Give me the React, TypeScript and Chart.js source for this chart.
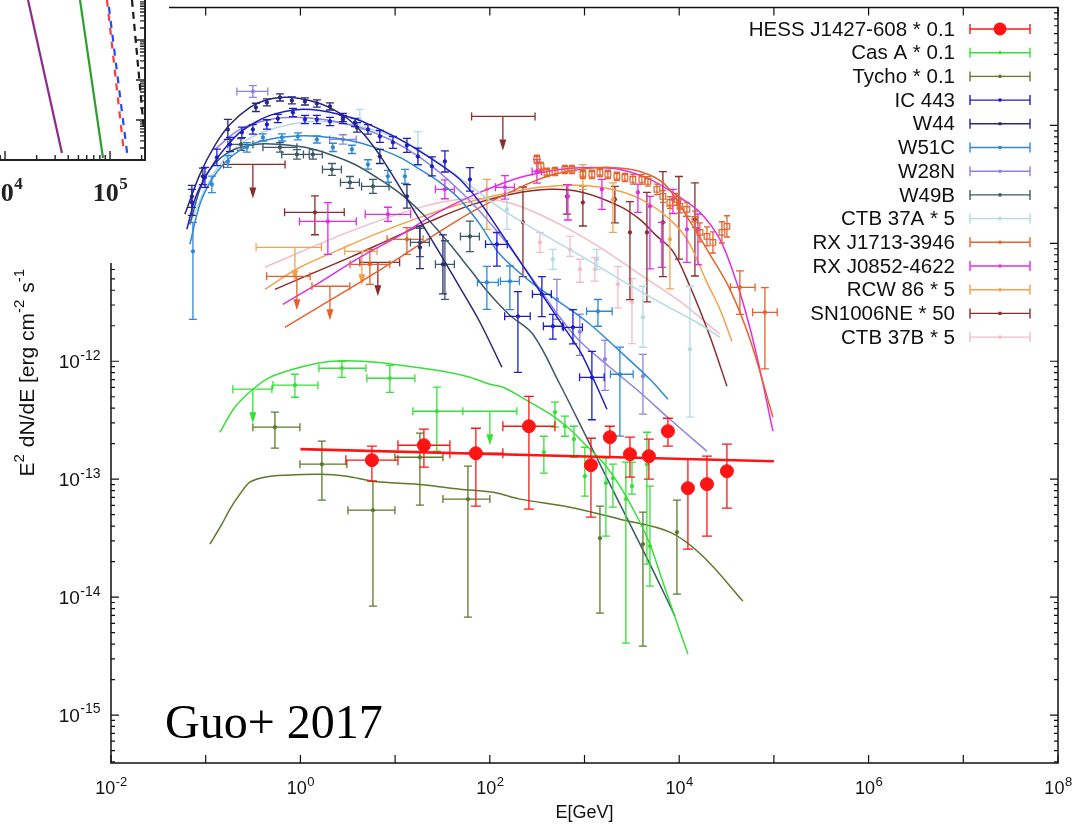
import { useEffect, useRef } from "react";
import { Chart, registerables } from "chart.js";

Chart.register(...registerables);

const SANS = "'Liberation Sans', Arial, Helvetica, sans-serif";
const SERIF = "'Liberation Serif', 'Times New Roman', serif";

// ---------- axes ----------
const X_MIN = 1e-2;
const X_MAX = 1e8;
const Y_MIN = 3.92e-16;
const Y_MAX = 1e-9;
const X_TICK_EXP = [-2, -1, 0, 1, 2, 3, 4, 5, 6, 7, 8];
const X_LABEL_EXP = [-2, 0, 2, 4, 6, 8];
const Y_LABEL_EXP = [-15, -14, -13, -12];

// ---------- sources ----------
const SOURCE_LABELS = [
  "HESS J1427-608 * 0.1",
  "Cas A * 0.1",
  "Tycho * 0.1",
  "IC 443",
  "W44",
  "W51C",
  "W28N",
  "W49B",
  "CTB 37A * 5",
  "RX J1713-3946",
  "RX J0852-4622",
  "RCW 86 * 5",
  "SN1006NE * 50",
  "CTB 37B * 5",
];
const SOURCE_COLORS = [
  "#ff1414",
  "#36e036",
  "#5b7a2b",
  "#1e1ec4",
  "#28287c",
  "#2d88d8",
  "#8c84e2",
  "#3d5866",
  "#b4d9e3",
  "#e4622c",
  "#e22ce2",
  "#f2a24e",
  "#8c2c2c",
  "#f4bcc6",
];

// Model curves: [log10 E/GeV, log10 E^2 dN/dE]
const hessModel = [[0, -12.745], [2.5, -12.797], [5, -12.848]];
const casAModel = [
  [-0.85, -12.602], [-0.692, -12.39], [-0.502, -12.237], [-0.322, -12.136], [-0.079, -12.068],
  [0.132, -12.025], [0.343, -12.0], [0.66, -12.0], [0.977, -12.025], [1.505, -12.085],
  [1.79, -12.136], [2.001, -12.195], [2.138, -12.22], [2.318, -12.297], [2.497, -12.381],
  [2.688, -12.475], [2.846, -12.576], [3.004, -12.703], [3.194, -12.856], [3.374, -13.059],
  [3.553, -13.314], [3.691, -13.551], [3.828, -13.873], [3.955, -14.169], [4.092, -14.483],
];
const tychoModel = [
  [-0.956, -13.551], [-0.829, -13.381], [-0.744, -13.254], [-0.639, -13.127], [-0.533, -13.025],
  [-0.375, -12.983], [-0.143, -12.966], [0.206, -12.958], [0.491, -12.975], [0.766, -13.017],
  [1.051, -13.034], [1.336, -13.051], [1.684, -13.085], [2.033, -13.11], [2.318, -13.169],
  [2.846, -13.237], [3.374, -13.339], [3.902, -13.449], [4.25, -13.653], [4.673, -14.034],
];
const ic443Model = [
  [-1.199, -10.881], [-1.114, -10.627], [-1.03, -10.475], [-0.935, -10.347], [-0.85, -10.246],
  [-0.744, -10.144], [-0.639, -10.059], [-0.48, -9.975], [-0.322, -9.915], [-0.164, -9.881],
  [-0.005, -9.864], [0.206, -9.873], [0.417, -9.907], [0.628, -9.958], [0.839, -10.034],
  [1.051, -10.119], [1.262, -10.22], [1.473, -10.331], [1.684, -10.458], [1.896, -10.653],
  [2.107, -10.898], [2.318, -11.153], [2.529, -11.407], [2.74, -11.661], [2.952, -11.915],
  [3.11, -12.178], [3.237, -12.407],
];
const w44Model = [
  [-1.22, -10.754], [-1.061, -10.415], [-0.903, -10.169], [-0.744, -9.992], [-0.533, -9.847],
  [-0.375, -9.788], [-0.216, -9.763], [-0.005, -9.771], [0.206, -9.814], [0.364, -9.873],
  [0.523, -9.958], [0.681, -10.085], [0.839, -10.254], [1.051, -10.525], [1.262, -10.805],
  [1.473, -11.085], [1.684, -11.373], [1.896, -11.669], [2.128, -12.051],
];
const w51cModel = [
  [-1.167, -11.008], [-1.061, -10.669], [-0.935, -10.458], [-0.797, -10.314], [-0.639, -10.212],
  [-0.428, -10.136], [-0.111, -10.093], [0.206, -10.093], [0.523, -10.127], [0.787, -10.186],
  [1.051, -10.271], [1.262, -10.373], [1.473, -10.483], [1.684, -10.627], [1.896, -10.839],
  [2.107, -11.093], [2.424, -11.322], [2.74, -11.5], [3.057, -11.686], [3.374, -11.915],
  [3.691, -12.153], [3.881, -12.322],
];
const w28nModel = [
  [-0.903, -10.203], [-0.639, -10.034], [-0.322, -9.949], [-0.005, -9.932], [0.312, -9.958],
  [0.628, -10.017], [0.945, -10.119], [1.262, -10.271], [1.579, -10.475], [1.896, -10.729],
  [2.212, -11.034], [2.529, -11.39], [2.74, -11.627], [2.952, -11.831], [3.268, -12.051],
  [3.585, -12.263], [3.902, -12.492], [4.293, -12.763],
];
const w49bModel = [
  [-1.167, -10.839], [-1.061, -10.542], [-0.956, -10.373], [-0.744, -10.22], [-0.48, -10.161],
  [-0.216, -10.161], [0.048, -10.186], [0.312, -10.246], [0.576, -10.331], [0.839, -10.458],
  [1.104, -10.61], [1.368, -10.814], [1.579, -11.008], [1.79, -11.22], [2.001, -11.432],
  [2.212, -11.61], [2.455, -11.771], [2.74, -12.195], [3.057, -12.703], [3.374, -13.212],
  [3.691, -13.72], [3.955, -14.161],
];
const ctb37aModel = [
  [-1.167, -10.839], [-1.008, -10.542], [-0.85, -10.331], [-0.639, -10.161], [-0.375, -10.051],
  [-0.058, -9.983], [0.259, -9.966], [0.576, -10.0], [0.892, -10.068], [1.209, -10.186],
  [1.526, -10.356], [1.843, -10.542], [2.16, -10.729], [2.529, -10.907], [2.952, -11.102],
  [3.374, -11.305], [3.796, -11.5], [4.219, -11.686], [4.43, -11.797],
];
const rxj1713Model = [
  [-0.164, -11.712], [0.206, -11.534], [0.628, -11.331], [1.051, -11.119], [1.473, -10.898],
  [1.896, -10.695], [2.318, -10.525], [2.635, -10.424], [2.952, -10.373], [3.268, -10.356],
  [3.585, -10.39], [3.849, -10.5], [4.113, -10.814], [4.324, -11.093], [4.536, -11.39],
  [4.747, -11.814], [4.99, -12.475],
];
const rxj0852Model = [
  [-0.185, -11.517], [0.206, -11.331], [0.628, -11.119], [1.051, -10.932], [1.473, -10.729],
  [1.896, -10.568], [2.318, -10.441], [2.74, -10.373], [3.057, -10.356], [3.374, -10.373],
  [3.691, -10.458], [4.008, -10.61], [4.219, -10.737], [4.43, -10.966], [4.588, -11.288],
  [4.694, -11.559], [4.821, -11.958], [4.99, -12.593],
];
const rcw86Model = [
  [-0.375, -11.39], [-0.005, -11.203], [0.417, -11.051], [0.839, -10.907], [1.262, -10.78],
  [1.684, -10.669], [2.107, -10.585], [2.529, -10.525], [2.952, -10.508], [3.374, -10.559],
  [3.691, -10.669], [3.955, -10.839], [4.113, -11.008], [4.293, -11.331], [4.43, -11.559],
  [4.557, -11.831],
];
const sn1006Model = [
  [-0.269, -11.39], [0.1, -11.263], [0.523, -11.119], [0.945, -10.966], [1.368, -10.814],
  [1.79, -10.678], [2.212, -10.585], [2.635, -10.542], [2.983, -10.568], [3.374, -10.686],
  [3.585, -10.797], [3.744, -10.924], [3.934, -11.068], [4.113, -11.364], [4.324, -11.788],
  [4.504, -12.212],
];
const ctb37bModel = [
  [-0.375, -11.203], [-0.005, -11.076], [0.417, -10.932], [0.839, -10.805], [1.262, -10.695],
  [1.684, -10.627], [2.001, -10.627], [2.318, -10.686], [2.74, -10.839], [3.163, -11.034],
  [3.585, -11.263], [4.008, -11.492], [4.43, -11.771],
];

// Flux points: [log10 E, log10 F, dlogE-, dlogE+, dlogF-, dlogF+]
const hessPts = [
  [0.755, -12.839, 0.275, 0.275, 0.178, 0.119],
  [1.304, -12.712, 0.274, 0.275, 0.186, 0.136],
  [1.853, -12.78, 0.274, 0.285, 0.449, 0.212],
  [2.413, -12.551, 0.275, 0.275, 0.703, 0.254],
  [3.068, -12.881, 0, 0, 0.441, 0.228],
  [3.268, -12.644, 0, 0, 0.17, 0.093],
  [3.48, -12.788, 0, 0, 0.195, 0.144],
  [3.68, -12.805, 0, 0, 0.195, 0.144],
  [3.881, -12.593, 0, 0, 0.127, 0.11],
  [4.092, -13.076, 0, 0, 0.517, 0.245],
  [4.293, -13.042, 0, 0, 0.441, 0.237],
  [4.504, -12.932, 0, 0, 0.314, 0.229],
];
const casAPts = [
  [-0.058, -12.203, 0.232, 0.243, 0.102, 0.093],
  [0.438, -12.059, 0.243, 0.254, 0.077, 0.059],
  [0.945, -12.144, 0.243, 0.264, 0.119, 0.11],
  [1.441, -12.424, 0.253, 0.275, 0.339, 0.204],
  [2.571, -12.771, 0, 0, 0.178, 0.135],
  [2.688, -12.432, 0, 0, 0.127, 0.085],
  [2.793, -12.551, 0, 0, 0.085, 0.085],
  [2.888, -12.661, 0, 0, 0.153, 0.11],
  [3.004, -12.975, 0, 0, 0.169, 0.246],
  [3.226, -13.034, 0, 0, 0.449, 0.212],
  [3.3, -12.992, 0, 0, 0.245, 0.119],
  [3.437, -13.169, 0, 0, 1.221, 0.313],
  [3.501, -13.059, 0, 0, 0.068, 0.203],
  [3.659, -12.873, 0, 0, 0.847, 0.271],
  [3.691, -13.568, 0, 0, 0.339, 0.509],
];
const tychoPts = [
  [-0.269, -12.559, 0.233, 0.264, 0.178, 0.127],
  [0.227, -12.873, 0.232, 0.264, 0.305, 0.195],
  [0.766, -13.263, 0.264, 0.232, 0.813, 0.246],
  [1.262, -12.814, 0.264, 0.243, 0.406, 0.204],
  [1.769, -13.169, 0.264, 0.232, 1.0, 0.279],
  [3.163, -13.5, 0, 0, 0.636, 0.271],
  [3.617, -13.551, 0, 0, 0.864, 0.271],
  [3.976, -13.449, 0, 0, 0.526, 0.271],
];
const ic443Pts = [
  [-1.146, -10.653, 0, 0, 0.11, 0.11],
  [-1.008, -10.441, 0, 0, 0.085, 0.085],
  [-0.882, -10.271, 0, 0, 0.07, 0.07],
  [-0.744, -10.161, 0, 0, 0.06, 0.06],
  [-0.618, -10.059, 0, 0, 0.045, 0.045],
  [-0.502, -10.034, 0, 0, 0.04, 0.04],
  [-0.354, -9.992, 0, 0, 0.04, 0.04],
  [-0.238, -9.941, 0, 0, 0.035, 0.035],
  [-0.079, -9.89, 0, 0, 0.035, 0.035],
  [0.048, -9.949, 0, 0, 0.035, 0.035],
  [0.174, -9.949, 0, 0, 0.035, 0.035],
  [0.312, -9.966, 0, 0, 0.035, 0.035],
  [0.449, -9.949, 0, 0, 0.035, 0.035],
  [0.576, -9.975, 0, 0, 0.035, 0.035],
  [0.713, -10.034, 0, 0, 0.04, 0.04],
  [0.839, -10.093, 0, 0, 0.05, 0.05],
  [0.977, -10.144, 0, 0, 0.05, 0.05],
  [1.125, -10.169, 0, 0, 0.06, 0.06],
  [1.241, -10.263, 0, 0, 0.07, 0.07],
  [1.389, -10.347, 0, 0, 0.08, 0.08],
  [1.526, -10.305, 0, 0, 0.09, 0.09],
  [1.79, -10.458, 0, 0, 0.1, 0.1],
  [2.075, -11.008, 0.12, 0.11, 0.186, 0.1],
  [2.297, -11.619, 0.14, 0.13, 0.475, 0.21],
  [2.55, -11.432, 0.1, 0.1, 0.19, 0.15],
  [2.666, -11.703, 0.1, 0.1, 0.11, 0.1],
  [2.878, -11.712, 0.1, 0.1, 0.14, 0.15],
  [3.078, -12.136, 0.13, 0.13, 0.36, 0.22],
];
const w44Pts = [
  [-1.146, -10.602, 0, 0, 0.093, 0.093],
  [-1.03, -10.432, 0, 0, 0.07, 0.07],
  [-0.766, -10.034, 0, 0, 0.085, 0.085],
  [-0.47, -9.847, 0, 0, 0.035, 0.035],
  [-0.354, -9.805, 0, 0, 0.03, 0.03],
  [-0.216, -9.763, 0, 0, 0.03, 0.03],
  [-0.09, -9.788, 0, 0, 0.03, 0.03],
  [0.048, -9.797, 0, 0, 0.03, 0.03],
  [0.174, -9.814, 0, 0, 0.03, 0.03],
  [0.312, -9.839, 0, 0, 0.03, 0.03],
  [0.449, -9.932, 0, 0, 0.035, 0.035],
  [0.597, -10.017, 0, 0, 0.04, 0.04],
  [0.839, -10.263, 0, 0, 0.06, 0.06],
  [1.125, -10.602, 0, 0, 0.1, 0.1],
  [1.262, -11.034, 0, 0, 0.18, 0.18],
  [1.505, -11.178, 0, 0, 0.25, 0.25],
];
const w51cPts = [
  [-1.135, -11.068, 0, 0, 0.576, 0.246],
  [-0.935, -10.5, 0, 0, 0.07, 0.07],
  [-0.766, -10.305, 0, 0, 0.05, 0.05],
  [-0.565, -10.186, 0, 0, 0.04, 0.04],
  [-0.396, -10.102, 0, 0, 0.03, 0.03],
  [-0.195, -10.102, 0, 0, 0.03, 0.03],
  [-0.026, -10.093, 0, 0, 0.03, 0.03],
  [0.174, -10.119, 0, 0, 0.03, 0.03],
  [0.343, -10.186, 0, 0, 0.035, 0.035],
  [0.544, -10.203, 0, 0, 0.035, 0.035],
  [0.713, -10.331, 0, 0, 0.04, 0.04],
  [0.924, -10.432, 0, 0, 0.05, 0.05],
  [1.104, -10.432, 0, 0, 0.06, 0.06],
  [1.969, -11.331, 0.1, 0.12, 0.229, 0.136],
  [2.212, -11.322, 0.1, 0.1, 0.24, 0.13],
  [3.142, -11.576, 0.12, 0.15, 0.127, 0.1],
  [3.374, -12.11, 0.1, 0.14, 0.525, 0.23],
];
const w28nPts = [
  [-0.502, -9.712, 0.169, 0.158, 0.05, 0.05],
  [0.449, -10.119, 0.14, 0.14, 0.04, 0.04],
  [2.709, -11.475, 0, 0, 0.17, 0.17],
  [2.95, -11.75, 0, 0, 0.2, 0.15],
  [3.216, -11.983, 0, 0, 0.263, 0.161],
  [3.617, -12.127, 0, 0, 0.322, 0.186],
];
const w49bPts = [
  [-0.628, -10.161, 0.138, 0.127, 0.05, 0.05],
  [-0.216, -10.186, 0.18, 0.18, 0.04, 0.04],
  [-0.037, -10.246, 0.16, 0.13, 0.04, 0.04],
  [0.132, -10.246, 0.1, 0.1, 0.04, 0.04],
  [0.333, -10.373, 0.1, 0.1, 0.05, 0.05],
  [0.523, -10.483, 0.1, 0.1, 0.05, 0.05],
  [0.766, -10.517, 0.12, 0.17, 0.06, 0.06],
  [1.262, -10.992, 0.1, 0.1, 0.12, 0.12],
  [1.526, -11.178, 0.1, 0.1, 0.297, 0.2],
  [1.79, -10.941, 0.1, 0.1, 0.13, 0.13],
];
const ctb37aPts = [
  [0.628, -9.949, 0, 0, 0.085, 0.085],
  [1.241, -10.203, 0, 0, 0.14, 0.15],
  [2.181, -10.712, 0, 0, 0.17, 0.17],
  [2.666, -11.136, 0, 0, 0.085, 0.085],
  [3.131, -11.136, 0, 0, 0.085, 0.085],
  [3.617, -11.627, 0, 0, 0.254, 0.263],
  [4.113, -11.898, 0, 0, 0.576, 0.534],
];
const rxj1713Pts = [
  [0.734, -11.178, 0.21, 0.21, 0.17, 0.127],
  [1.125, -10.966, 0.21, 0.17, 0.127, 0.1],
  [4.641, -11.373, 0.1, 0.16, 0.23, 0.14],
  [4.905, -11.585, 0.13, 0.13, 0.48, 0.21],
];
const rxj1713HessPts = [
  [2.497, -10.288, 0, 0, 0.035, 0.035],
  [2.54, -10.347, 0, 0, 0.035, 0.035],
  [2.603, -10.398, 0, 0, 0.035, 0.035],
  [2.688, -10.39, 0, 0, 0.035, 0.035],
  [2.793, -10.373, 0, 0, 0.035, 0.035],
  [2.867, -10.373, 0, 0, 0.035, 0.035],
  [2.983, -10.415, 0, 0, 0.035, 0.035],
  [3.078, -10.415, 0, 0, 0.035, 0.035],
  [3.163, -10.398, 0, 0, 0.035, 0.035],
  [3.247, -10.415, 0, 0, 0.035, 0.035],
  [3.342, -10.432, 0, 0, 0.035, 0.035],
  [3.427, -10.441, 0, 0, 0.035, 0.035],
  [3.511, -10.458, 0, 0, 0.04, 0.04],
  [3.606, -10.458, 0, 0, 0.04, 0.04],
  [3.67, -10.475, 0, 0, 0.04, 0.04],
  [3.765, -10.542, 0, 0, 0.045, 0.045],
  [3.828, -10.602, 0, 0, 0.05, 0.05],
  [3.902, -10.653, 0, 0, 0.05, 0.05],
  [3.976, -10.627, 0, 0, 0.05, 0.05],
  [4.008, -10.686, 0, 0, 0.055, 0.055],
  [4.081, -10.712, 0, 0, 0.06, 0.06],
  [4.166, -10.797, 0, 0, 0.07, 0.07],
  [4.219, -10.907, 0, 0, 0.08, 0.08],
  [4.293, -10.941, 0, 0, 0.08, 0.08],
  [4.356, -10.992, 0, 0, 0.09, 0.09],
  [4.451, -10.907, 0, 0, 0.09, 0.09],
  [4.504, -10.856, 0, 0, 0.09, 0.09],
];
const rxj0852Pts = [
  [0.29, -10.814, 0.3, 0.3, 0.28, 0.16],
  [0.924, -10.754, 0.24, 0.24, 0.06, 0.06],
  [1.526, -10.542, 0.1, 0.1, 0.08, 0.08],
  [2.16, -10.525, 0.1, 0.1, 0.1, 0.1],
  [2.497, -10.39, 0.05, 0.05, 0.1, 0.1],
  [2.825, -10.602, 0, 0, 0.2, 0.1],
  [3.184, -10.542, 0, 0, 0.17, 0.085],
  [3.564, -10.568, 0, 0, 0.17, 0.07],
  [3.691, -10.686, 0, 0, 0.53, 0.085],
  [3.817, -10.983, 0, 0, 0.22, 0.16],
  [3.934, -10.627, 0, 0, 0.12, 0.085],
  [4.081, -10.881, 0, 0, 0.28, 0.11],
  [4.198, -10.881, 0, 0, 0.3, 0.13],
];
const rcw86Pts = [
  [1.969, -10.542, 0, 0, 0.34, 0.085],
  [2.983, -10.432, 0, 0, 0.11, 0.1],
  [3.3, -10.627, 0, 0, 0.28, 0.14],
  [3.902, -10.966, 0, 0, 0.42, 0.28],
];
const sn1006Pts = [
  [0.153, -10.737, 0.32, 0.31, 0.19, 0.14],
  [2.35, -10.822, 0, 0, 0.46, 0.3],
  [2.814, -10.602, 0, 0, 0.15, 0.1],
  [2.983, -10.653, 0, 0, 0.2, 0.14],
  [3.321, -10.627, 0, 0, 0.2, 0.11],
  [3.48, -10.907, 0, 0, 0.57, 0.26],
  [3.659, -10.907, 0, 0, 0.59, 0.34],
  [3.828, -10.822, 0, 0, 0.46, 0.43],
  [3.997, -10.653, 0, 0, 0.48, 0.22],
  [4.166, -10.797, 0, 0, 0.48, 0.31],
];
const ctb37bPts = [
  [2.529, -10.992, 0, 0, 0.085, 0.085],
  [2.846, -11.051, 0, 0, 0.06, 0.11],
  [2.952, -11.22, 0, 0, 0.11, 0.085],
  [3.11, -11.22, 0, 0, 0.1, 0.1],
  [3.353, -11.347, 0, 0, 0.2, 0.15],
  [3.501, -11.5, 0, 0, 0.35, 0.2],
];

// Upper limits: [log10 E, log10 F, dlogE-, dlogE+]
const casAUL = [[-0.502, -12.237, 0.211, 0.201], [2.001, -12.424, 0.285, 0.285]];
const rxj1713UL = [[-0.037, -11.28, 0.32, 0.14], [0.312, -11.364, 0.19, 0.21]];
const rcw86UL = [[-0.058, -11.034, 0.41, 0.28], [0.649, -11.068, 0.18, 0.16]];
const sn1006UL = [[2.138, -9.924, 0.33, 0.34], [-0.502, -10.331, 0.31, 0.34], [0.818, -11.161, 0.19, 0.23]];

const MODELS = [
  hessModel, casAModel, tychoModel, ic443Model, w44Model, w51cModel, w28nModel,
  w49bModel, ctb37aModel, rxj1713Model, rxj0852Model, rcw86Model, sn1006Model, ctb37bModel,
];
const POINTS = [
  hessPts, casAPts, tychoPts, ic443Pts, w44Pts, w51cPts, w28nPts,
  w49bPts, ctb37aPts, rxj1713Pts, rxj0852Pts, rcw86Pts, sn1006Pts, ctb37bPts,
];
const LIMITS = [[], casAUL, [], [], [], [], [], [], [], rxj1713UL, [], rcw86UL, sn1006UL, []];

// ---------- inset (adjacent panel, x in log10 E, y in log10 of its own units) ----------
const INSET_X_MIN = 10 ** 3.952;
const INSET_X_MAX = 10 ** 5.333;
const INSET_Y_MIN = 1e-2;
const INSET_Y_MAX = 1e2;
const insetPurple = [[4.219, 2.0], [4.542, -1.825]];
const insetGreen = [[4.714, 2.0], [4.933, -1.95]];
const insetRed = [[4.971, 2.0], [5.133, -1.825]];
const insetBlue = [[4.981, 2.0], [5.171, -2.0]];
const insetBlack = [[5.209, 2.0], [5.323, -1.25]];

const toXY = (rows: number[][]) => rows.map((r) => ({ x: 10 ** r[0], y: 10 ** r[1] }));

function drawPow(
  ctx: CanvasRenderingContext2D,
  exp: string,
  x: number,
  y: number,
  align: "center" | "right",
  size: number,
  family: string,
  weight = "",
  supRatio = 0.66
) {
  const base = `${weight} ${size}px ${family}`;
  const sup = `${weight} ${Math.round(size * supRatio)}px ${family}`;
  ctx.font = base;
  const w1 = ctx.measureText("10").width;
  ctx.font = sup;
  const w2 = ctx.measureText(exp).width;
  const start = align === "center" ? x - (w1 + w2) / 2 : x - w1 - w2;
  ctx.textAlign = "left";
  ctx.textBaseline = "alphabetic";
  ctx.font = base;
  ctx.fillText("10", start, y);
  ctx.font = sup;
  ctx.fillText(exp, start + w1 + 0.5, y - size * 0.45);
}

const ARROW = 34;

const errorBarPlugin = {
  id: "errorBars",
  afterDatasetDraw(chart: any, args: any) {
    const ds: any = chart.data.datasets[args.index];
    if (!ds.errorRows && !ds.limitRows) return;
    const { ctx, chartArea: a } = chart;
    const sx = chart.scales.x;
    const sy = chart.scales.y;
    const X = (l: number) => sx.getPixelForValue(10 ** l);
    const Y = (l: number) => sy.getPixelForValue(10 ** l);
    const cap = ds.capSize ?? 4;
    ctx.save();
    ctx.beginPath();
    ctx.rect(a.left, a.top, a.right - a.left, a.bottom - a.top);
    ctx.clip();
    ctx.strokeStyle = ds.borderColor;
    ctx.fillStyle = ds.borderColor;
    ctx.lineWidth = ds.barWidth ?? 1.3;
    ctx.beginPath();
    for (const r of ds.errorRows ?? []) {
      const px = X(r[0]);
      const py = Y(r[1]);
      if (r[2] > 0 || r[3] > 0) {
        const x0 = X(r[0] - r[2]);
        const x1 = X(r[0] + r[3]);
        ctx.moveTo(x0, py);
        ctx.lineTo(x1, py);
        ctx.moveTo(x0, py - cap);
        ctx.lineTo(x0, py + cap);
        ctx.moveTo(x1, py - cap);
        ctx.lineTo(x1, py + cap);
      }
      if (r[4] > 0 || r[5] > 0) {
        const y0 = Y(r[1] - r[4]);
        const y1 = Y(r[1] + r[5]);
        ctx.moveTo(px, y0);
        ctx.lineTo(px, y1);
        ctx.moveTo(px - cap, y0);
        ctx.lineTo(px + cap, y0);
        ctx.moveTo(px - cap, y1);
        ctx.lineTo(px + cap, y1);
      }
    }
    for (const u of ds.limitRows ?? []) {
      const px = X(u[0]);
      const py = Y(u[1]);
      const x0 = X(u[0] - u[2]);
      const x1 = X(u[0] + u[3]);
      ctx.moveTo(x0, py);
      ctx.lineTo(x1, py);
      ctx.moveTo(x0, py - cap);
      ctx.lineTo(x0, py + cap);
      ctx.moveTo(x1, py - cap);
      ctx.lineTo(x1, py + cap);
      ctx.moveTo(px, py);
      ctx.lineTo(px, py + ARROW - 6);
    }
    ctx.stroke();
    for (const u of ds.limitRows ?? []) {
      const px = X(u[0]);
      const py = Y(u[1]) + ARROW;
      ctx.beginPath();
      ctx.moveTo(px, py);
      ctx.lineTo(px - 3.5, py - 11);
      ctx.lineTo(px + 3.5, py - 11);
      ctx.closePath();
      ctx.fill();
    }
    ctx.restore();
  },
};

const framePlugin = {
  id: "frame",
  afterDraw(chart: any) {
    const { ctx, chartArea: a } = chart;
    const sx = chart.scales.x;
    const sy = chart.scales.y;
    ctx.save();
    ctx.strokeStyle = "#111";
    ctx.fillStyle = "#111";
    ctx.lineWidth = 1.5;
    ctx.strokeRect(a.left, a.top, a.right - a.left, a.bottom - a.top);
    ctx.lineWidth = 1.2;
    ctx.beginPath();
    for (const e of X_TICK_EXP) {
      const px = sx.getPixelForValue(10 ** e);
      ctx.moveTo(px, a.bottom);
      ctx.lineTo(px, a.bottom - 8);
      ctx.moveTo(px, a.top);
      ctx.lineTo(px, a.top + 8);
    }
    for (let d = -16; d <= -9; d++) {
      for (let m = 1; m <= 9; m++) {
        const v = m * 10 ** d;
        if (v < Y_MIN || v > Y_MAX * 1.0001) continue;
        const py = sy.getPixelForValue(v);
        const len = m === 1 ? 8 : 4;
        ctx.moveTo(a.left, py);
        ctx.lineTo(a.left + len, py);
        ctx.moveTo(a.right, py);
        ctx.lineTo(a.right - len, py);
      }
    }
    ctx.stroke();

    for (const e of X_LABEL_EXP) {
      drawPow(ctx, String(e), sx.getPixelForValue(10 ** e), 794, "center", 18, SANS, "", 0.7);
    }
    for (const e of Y_LABEL_EXP) {
      drawPow(ctx, String(e), a.left - 11, sy.getPixelForValue(10 ** e) + 7, "right", 19, SANS, "", 0.72);
    }

    ctx.font = `18px ${SANS}`;
    ctx.textAlign = "center";
    ctx.textBaseline = "alphabetic";
    ctx.fillText("E[GeV]", (a.left + a.right) / 2, 818);

    // vertical axis title; its upper end runs under the neighbouring panel
    const parts: [string, boolean][] = [
      ["E", false], ["2", true], [" dN/dE [erg cm", false], ["-2", true], [" s", false], ["-1", true],
    ];
    const fontFor = (sup: boolean) => (sup ? `15px ${SANS}` : `21px ${SANS}`);
    let total = 0;
    for (const [t, sup] of parts) {
      ctx.font = fontFor(sup);
      total += ctx.measureText(t).width + (sup ? 1 : 0);
    }
    ctx.save();
    ctx.translate(34, 268 + total);
    ctx.rotate(-Math.PI / 2);
    let cx = 0;
    for (const [t, sup] of parts) {
      ctx.font = fontFor(sup);
      ctx.textAlign = "left";
      ctx.fillText(t, cx, sup ? -10 : 0);
      cx += ctx.measureText(t).width + (sup ? 1 : 0);
    }
    ctx.restore();

    // area occupied by the neighbouring panel
    ctx.fillStyle = "#ffffff";
    ctx.fillRect(0, 0, 169, 263);

    // legend
    ctx.font = `20.5px ${SANS}`;
    ctx.textAlign = "right";
    ctx.textBaseline = "middle";
    SOURCE_LABELS.forEach((label, i) => {
      const y = 29 + i * 23.7;
      ctx.fillStyle = "#111";
      ctx.fillText(label, 955, y + 1);
      const c = SOURCE_COLORS[i];
      ctx.strokeStyle = c;
      ctx.fillStyle = c;
      ctx.lineWidth = 1.4;
      ctx.beginPath();
      ctx.moveTo(970, y);
      ctx.lineTo(1030, y);
      ctx.moveTo(970, y - 5);
      ctx.lineTo(970, y + 5);
      ctx.moveTo(1030, y - 5);
      ctx.lineTo(1030, y + 5);
      ctx.stroke();
      ctx.beginPath();
      ctx.arc(1000, y, i === 0 ? 6.5 : 1.8, 0, Math.PI * 2);
      ctx.fill();
    });

    ctx.fillStyle = "#000";
    ctx.font = `48px ${SERIF}`;
    ctx.textAlign = "left";
    ctx.textBaseline = "alphabetic";
    ctx.fillText("Guo+ 2017", 165, 738);
    ctx.restore();
  },
};

const insetFrame = {
  id: "insetFrame",
  afterDraw(chart: any) {
    const { ctx, chartArea: a } = chart;
    const sx = chart.scales.x;
    const sy = chart.scales.y;
    ctx.save();
    ctx.strokeStyle = "#222";
    ctx.lineWidth = 2;
    ctx.beginPath();
    ctx.moveTo(a.left, a.bottom);
    ctx.lineTo(a.right, a.bottom);
    ctx.lineTo(a.right, a.top);
    ctx.stroke();
    ctx.lineWidth = 1.4;
    ctx.beginPath();
    for (let d = 3; d <= 5; d++) {
      for (let m = 1; m <= 9; m++) {
        const v = m * 10 ** d;
        if (v < INSET_X_MIN || v > INSET_X_MAX) continue;
        const px = sx.getPixelForValue(v);
        const len = m === 1 ? 9 : 5;
        ctx.moveTo(px, a.bottom);
        ctx.lineTo(px, a.bottom - len);
      }
    }
    for (let d = -2; d <= 1; d++) {
      for (let m = 1; m <= 9; m++) {
        const v = m * 10 ** d;
        if (v < INSET_Y_MIN || v > INSET_Y_MAX) continue;
        const py = sy.getPixelForValue(v);
        const len = m === 1 ? 9 : 5;
        ctx.moveTo(a.right, py);
        ctx.lineTo(a.right - len, py);
      }
    }
    ctx.stroke();
    ctx.fillStyle = "#222";
    drawPow(ctx, "4", sx.getPixelForValue(1e4), 201, "center", 26, SERIF, "bold");
    drawPow(ctx, "5", sx.getPixelForValue(1e5), 201, "center", 26, SERIF, "bold");
    ctx.restore();
  },
};

function buildMain() {
  const datasets: any[] = [];
  SOURCE_LABELS.forEach((label, i) => {
    const color = SOURCE_COLORS[i];
    datasets.push({
      label,
      data: toXY(POINTS[i]),
      showLine: false,
      pointRadius: i === 0 ? 6.5 : 1.7,
      pointBackgroundColor: color,
      pointBorderColor: color,
      borderColor: color,
      backgroundColor: color,
      errorRows: POINTS[i],
      limitRows: LIMITS[i],
      capSize: i === 0 ? 5 : 4,
    });
    if (i === 9) {
      datasets.push({
        label: label + " (TeV)",
        data: toXY(rxj1713HessPts),
        showLine: false,
        pointStyle: "rect",
        pointRadius: 4,
        pointBorderWidth: 1.2,
        pointBackgroundColor: "rgba(0,0,0,0)",
        pointBorderColor: color,
        borderColor: color,
        errorRows: rxj1713HessPts,
        capSize: 3,
      });
    }
    datasets.push({
      label: label + " model",
      data: toXY(MODELS[i]),
      showLine: true,
      pointRadius: 0,
      borderColor: color,
      borderWidth: i === 0 ? 2.6 : 1.5,
      tension: i === 0 ? 0 : 0.35,
      fill: false,
    });
  });
  return {
    type: "scatter" as const,
    data: { datasets },
    options: {
      animation: false as const,
      responsive: false,
      devicePixelRatio: 1,
      events: [],
      layout: { padding: { left: 111, right: 19, top: 7, bottom: 66 } },
      plugins: { legend: { display: false }, tooltip: { enabled: false } },
      scales: {
        x: { type: "logarithmic" as const, min: X_MIN, max: X_MAX, display: false },
        y: { type: "logarithmic" as const, min: Y_MIN, max: Y_MAX, display: false },
      },
    },
    plugins: [errorBarPlugin, framePlugin],
  };
}

function buildInset() {
  const line = (rows: number[][], color: string, dash: number[], offset = 0) => ({
    data: toXY(rows),
    showLine: true,
    pointRadius: 0,
    borderColor: color,
    borderWidth: 2.2,
    borderDash: dash,
    borderDashOffset: offset,
    fill: false,
  });
  return {
    type: "scatter" as const,
    data: {
      datasets: [
        line(insetPurple, "#8e2a8e", []),
        line(insetGreen, "#2f9e2f", []),
        line(insetRed, "#ff3a3a", [7, 7]),
        line(insetBlue, "#2446ff", [7, 7], 7),
        line(insetBlack, "#1a1a1a", [7, 5]),
      ],
    },
    options: {
      animation: false as const,
      responsive: false,
      devicePixelRatio: 1,
      events: [],
      layout: { padding: { left: 0, right: 20, top: 0, bottom: 55 } },
      plugins: { legend: { display: false }, tooltip: { enabled: false } },
      scales: {
        x: { type: "logarithmic" as const, min: INSET_X_MIN, max: INSET_X_MAX, display: false },
        y: { type: "logarithmic" as const, min: INSET_Y_MIN, max: INSET_Y_MAX, display: false },
      },
    },
    plugins: [insetFrame],
  };
}

export default function App() {
  const mainRef = useRef<HTMLCanvasElement>(null);
  const insetRef = useRef<HTMLCanvasElement>(null);
  useEffect(() => {
    const main = new Chart(mainRef.current as HTMLCanvasElement, buildMain() as any);
    const inset = new Chart(insetRef.current as HTMLCanvasElement, buildInset() as any);
    return () => {
      main.destroy();
      inset.destroy();
    };
  }, []);
  return (
    <div style={{ position: "absolute", left: 0, top: 0, width: 1077, height: 829, background: "#ffffff" }}>
      <canvas ref={mainRef} width={1077} height={829} style={{ position: "absolute", left: 0, top: 0 }} />
      <canvas ref={insetRef} width={165} height={215} style={{ position: "absolute", left: 0, top: 0 }} />
    </div>
  );
}
